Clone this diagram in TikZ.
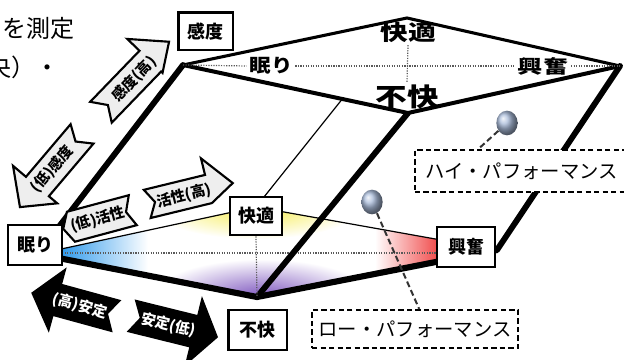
\documentclass[tikz,border=0pt]{standalone}
\usepackage{fontspec}
\setmainfont{Noto Sans CJK JP}
\usetikzlibrary{calc,shapes.geometric}
\definecolor{ballc}{RGB}{170,188,218}
\definecolor{shblue}{RGB}{40,150,235}
\definecolor{shyellow}{RGB}{245,235,70}
\definecolor{shviolet}{RGB}{125,85,190}
\definecolor{shred}{RGB}{240,70,70}
\newcommand{\myarrowpoly}[7]{%
  \draw[#1] ({-(#2)/2},{-(#3)/2}) -- ({(#2)/2-(#4)},{-(#3)/2}) -- ({(#2)/2-(#4)},{-(#3)/2-(#5)}) -- ({(#2)/2},0) -- ({(#2)/2-(#4)},{(#3)/2+(#6)}) -- ({(#2)/2-(#4)},{(#3)/2}) -- ({-(#2)/2},{(#3)/2}) -- ({-(#2)/2+(#7)},0) -- cycle;}
\begin{document}
\begin{tikzpicture}[x=0.75pt,y=-0.75pt,
  lbl/.style={draw=black,line width=2pt,fill=white,inner sep=0pt,font=\fontsize{13.5}{15}\selectfont\bfseries},
  face/.style={inner sep=2pt,font=\bfseries},
  dotln/.style={draw=gray!70!black,line width=0.9pt,densely dotted},
  edgethin/.style={line width=0.9pt},
  edgethick/.style={line width=4.6pt,line join=miter},
  sideedge/.style={line width=4.4pt,line cap=round},
  perf/.style={draw=black,line width=1.6pt,dash pattern=on 4pt off 2.4pt,fill=white,inner sep=0pt,font=\fontsize{14.5}{16}\selectfont},
  arrw/.style={draw=black,line width=1.6pt,fill=gray!13,line join=miter},
  arrb/.style={draw=black,line width=1pt,fill=black,line join=miter},
  atext/.style={font=\fontsize{11}{12}\selectfont\bfseries,inner sep=0pt},
  ballst/.style={ellipse,minimum width=16pt,minimum height=18.5pt,inner sep=0pt,shade,ball color=ballc},
  leader/.style={draw=black!80,line width=1.5pt,dash pattern=on 4.5pt off 2.5pt},
  frag/.style={inner sep=0pt,font=\fontsize{18}{20}\selectfont}
]
\useasboundingbox (0,0) rectangle (624,360);
\clip (0,0) rectangle (624,360);

% prism corner points
\coordinate (TL) at (183,65);
\coordinate (TT) at (407,18);
\coordinate (TR) at (620,66);
\coordinate (TB) at (408,113);
\coordinate (BL) at (38,254);
\coordinate (BT) at (256,207);
\coordinate (BR) at (497,250);
\coordinate (BB) at (257,297);

% colour shading of the lower face
\begin{scope}
  \clip (BL) -- (BT) -- (BR) -- (BB) -- cycle;
  \shade[left color=shblue,right color=white] (58,190) rectangle (148,300);
  \begin{scope}
    \clip (150,190) rectangle (380,252);
    \shade[inner color=shyellow,outer color=white] (256,207) ellipse (105 and 32);
  \end{scope}
  \begin{scope}
    \clip (150,252) rectangle (380,300);
    \shade[inner color=shviolet,outer color=white] (262,297) ellipse (110 and 38);
  \end{scope}
  \shade[left color=white,right color=shred] (375,190) rectangle (440,300);
\end{scope}

% lower face axes and edges
\coordinate (axL) at (62,253);
\coordinate (axR) at (437,253);
\draw[dotln] (axL) -- (axR);
\draw[edgethin] (BL) -- (BT) -- (BR);
\draw[edgethick] (BL) -- (BB) -- (BR);
% hidden back edge
\draw[edgethin] (TT) -- (BT);
% side edges
\draw[sideedge] (TL) -- (BL);
\draw[sideedge] (TB) -- (BB);
\draw[sideedge] (TR) -- (BR);

% top face
\fill[white] (TL) -- (TT) -- (TR) -- (TB) -- cycle;
\draw[line width=2.3pt,line cap=round,line join=miter] (TL) -- (TT) -- (TR);
\draw[line width=3pt,line cap=round,line join=miter] (TL) -- (TB) -- (TR);

\node[face,font=\fontsize{16}{18}\selectfont\bfseries] (tkai) at (408,32) {\scalebox{1.3}[1]{快適}};
\node[face,font=\fontsize{19}{21}\selectfont\bfseries] (tfuk) at (407,97) {\scalebox{1.25}[1]{不快}};
\node[face,font=\fontsize{14}{16}\selectfont\bfseries] (tnem) at (271,66) {\scalebox{1.15}[1]{眠り}};
\node[face,font=\fontsize{14}{16}\selectfont\bfseries] (tkof) at (543,66) {\scalebox{1.35}[1]{興奮}};
\draw[dotln] (TL) -- (tnem.west);
\draw[dotln] (tnem.east) -- (tkof.west);
\draw[dotln] (tkof.east) -- (TR);
\draw[dotln] (tkai.south) -- (tfuk.north);

% block arrows
\begin{scope}[shift={(135,77)},rotate=46]
  \myarrowpoly{arrw}{98}{30}{27}{17}{2}{10}
  \node[atext,rotate=46] (txA) at (-2,1) {感度(高)};
\end{scope}
\begin{scope}[shift={(51,170.5)},rotate=229.7]
  \myarrowpoly{arrw}{96}{30}{27}{11}{17}{10}
  \node[atext,rotate=49.7] (txB) at (-2,0) {(低)感度};
\end{scope}
\begin{scope}[shift={(98,219.5)},rotate=195]
  \myarrowpoly{arrw}{72}{31}{8}{0}{0}{7}
  \node[atext,rotate=15] (txC) at (0,0) {(低)活性};
\end{scope}
\begin{scope}[shift={(190,193.5)},rotate=13.7]
  \myarrowpoly{arrw}{88}{29}{25}{17}{0}{8}
  \node[atext,rotate=13.7] (txD) at (-6,1) {活性(高)};
\end{scope}
\begin{scope}[shift={(74,304.5)},rotate=164.7]
  \myarrowpoly{arrb}{87}{32}{26}{16}{16}{9}
  \node[atext,text=white,rotate=-15.3] (txE) at (-6,0) {(高)安定};
\end{scope}
\begin{scope}[shift={(174.5,326.5)},rotate=-13.9]
  \myarrowpoly{arrb}{88}{32}{24}{18}{18}{9}
  \node[atext,text=white,rotate=-13.9] (txF) at (-6,0) {安定(低)};
\end{scope}

% labelled boxes
\node[lbl,minimum width=40.5pt,minimum height=30pt] (nemuri) at (35,245) {眠り};
\node[lbl,minimum width=39pt,minimum height=28.5pt] (kaiteki) at (256,216) {快適};
\node[lbl,minimum width=44pt,minimum height=30pt] (fukai) at (257.5,330) {不快};
\node[lbl,minimum width=43.5pt,minimum height=30pt] (kofun) at (466,247) {興奮};
\node[lbl,minimum width=41pt,minimum height=28pt] (kando) at (205.5,31.5) {感度};
\draw[dotln] (kaiteki.south) -- (BB);

% performance markers
\node[perf,minimum width=160pt,minimum height=31.5pt] (hibox) at (521.5,171) {ハイ・パフォーマンス};
\node[perf,minimum width=154.5pt,minimum height=28.5pt] (lobox) at (415,329) {ロー・パフォーマンス};
\node[ballst] (hiball) at (507,123) {};
\node[ballst] (loball) at (372,202) {};
\draw[leader] (hiball) -- ($(hibox.north west)!0.3!(hibox.north east)$);
\draw[leader] (loball) -- ($(lobox.north west)!0.52!(lobox.north east)$);

% cut-off page text
\node[frag,anchor=east] (frag1) at (75,28) {を測定};
\node[frag,anchor=east] (frag2) at (60,67) {央）・};
\end{tikzpicture}
\end{document}
